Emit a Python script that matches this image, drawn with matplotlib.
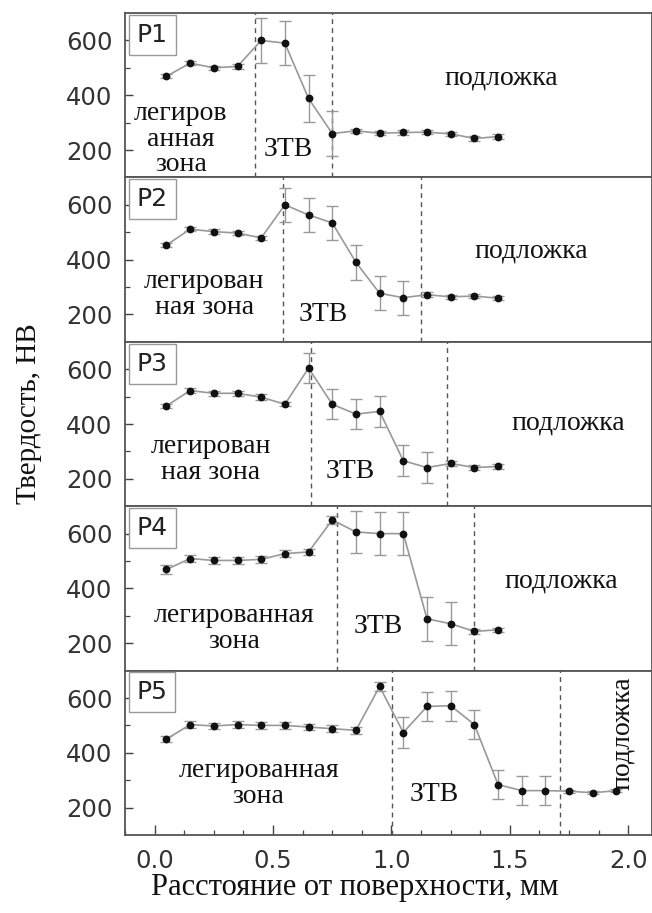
import matplotlib
matplotlib.use("Agg")
import matplotlib.pyplot as plt
import numpy as np

# ---------------- data ----------------
panel_names = ["P1", "P2", "P3", "P4", "P5"]

x_p1 = [0.05, 0.15, 0.25, 0.35, 0.45, 0.55, 0.65, 0.75, 0.85, 0.95, 1.05, 1.15, 1.25, 1.35, 1.45]
hb_p1 = [469, 517, 500, 505, 600, 590, 388, 260, 270, 261, 264, 265, 259, 242, 249]
err_p1 = [8, 8, 8, 8, 82, 80, 85, 83, 8, 8, 8, 8, 8, 8, 8]

x_p2 = [0.05, 0.15, 0.25, 0.35, 0.45, 0.55, 0.65, 0.75, 0.85, 0.95, 1.05, 1.15, 1.25, 1.35, 1.45]
hb_p2 = [453, 511, 502, 497, 479, 600, 563, 534, 390, 277, 261, 272, 264, 267, 259]
err_p2 = [8, 8, 8, 8, 8, 61, 62, 61, 63, 62, 62, 8, 8, 8, 8]

x_p3 = [0.05, 0.15, 0.25, 0.35, 0.45, 0.55, 0.65, 0.75, 0.85, 0.95, 1.05, 1.15, 1.25, 1.35, 1.45]
hb_p3 = [466, 522, 512, 512, 498, 472, 604, 472, 436, 446, 266, 241, 256, 241, 245]
err_p3 = [8, 8, 8, 8, 10, 8, 55, 55, 54, 57, 56, 55, 8, 8, 8]

x_p4 = [0.05, 0.15, 0.25, 0.35, 0.45, 0.55, 0.65, 0.75, 0.85, 0.95, 1.05, 1.15, 1.25, 1.35, 1.45]
hb_p4 = [469, 509, 502, 502, 506, 527, 533, 650, 606, 600, 600, 289, 271, 243, 249]
err_p4 = [15, 12, 12, 12, 12, 12, 12, 15, 78, 78, 78, 80, 79, 8, 8]

x_p5 = [0.05, 0.15, 0.25, 0.35, 0.45, 0.55, 0.65, 0.75, 0.85, 0.95,
        1.05, 1.15, 1.25, 1.35, 1.45, 1.55, 1.65, 1.75, 1.85, 1.95]
hb_p5 = [450, 503, 498, 503, 500, 500, 494, 488, 482, 642,
         474, 569, 572, 503, 284, 262, 262, 260, 254, 262]
err_p5 = [12, 12, 12, 12, 12, 12, 12, 12, 12, 15,
          55, 54, 55, 54, 54, 54, 54, 5, 5, 5]

# zone boundaries (dashed lines), mm
bounds = [[0.424, 0.751], [0.540, 1.126], [0.659, 1.234], [0.769, 1.349], [1.004, 1.710]]

# zone labels
alloy_lbl = ["легиров\nанная\nзона", "легирован\nная зона", "легирован\nная зона",
             "легированная\nзона", "легированная\nзона"]
alloy_pos = [(0.11, 240), (0.21, 274), (0.238, 270), (0.336, 253), (0.439, 288)]
haz_lbl = "ЗТВ"
haz_pos = [(0.565, 200), (0.714, 198), (0.828, 227), (0.944, 262), (1.179, 246)]
sub_lbl = "подложка"
sub_pos = [(1.465, 462), (1.591, 432), (1.747, 403), (1.717, 426), (1.975, 470)]
sub_rot = [0, 0, 0, 0, 90]

xs = [x_p1, x_p2, x_p3, x_p4, x_p5]
ys = [hb_p1, hb_p2, hb_p3, hb_p4, hb_p5]
es = [err_p1, err_p2, err_p3, err_p4, err_p5]

y_ticks = [200, 400, 600]
x_ticks = [0.0, 0.5, 1.0, 1.5, 2.0]
x_tick_labels = ["0.0", "0.5", "1.0", "1.5", "2.0"]

# ---------------- figure ----------------
W, H = 652, 913
fig = plt.figure(figsize=(W / 100, H / 100), dpi=100)

serif = ["Liberation Serif", "DejaVu Serif"]
sans = ["DejaVu Sans"]

left_px, right_px = 125, 652
top_px, bot_px = 13, 835
ph = (bot_px - top_px) / 5.0

for i in range(5):
    top = top_px + ph * i
    ax = fig.add_axes([left_px / W, (H - (top + ph)) / H, (right_px - left_px) / W, ph / H])
    ax.set_xlim(-0.125, 2.1)
    ax.set_ylim(100, 700)

    ax.errorbar(xs[i], ys[i], yerr=es[i], fmt='-', color='#999999', lw=1.2,
                ecolor='#999999', elinewidth=1.0, capsize=4.5, capthick=1.0, zorder=2)
    ax.plot(xs[i], ys[i], 'o', color='#111111', ms=4.6, zorder=3, ls='none')

    for b in bounds[i]:
        ax.axvline(b, color='#555555', lw=1.0, ls=(0, (3.5, 3)), zorder=1)

    ax.text(0.022, 0.94, panel_names[i], transform=ax.transAxes, ha='left', va='top',
            fontsize=18, family=sans, color='#222222',
            bbox=dict(boxstyle='square,pad=0.32', fc='white', ec='#999999', lw=1.0))

    ax.text(alloy_pos[i][0], alloy_pos[i][1], alloy_lbl[i], ha='center', va='center',
            fontsize=20, family=serif, color='#111111', linespacing=1.05)
    ax.text(haz_pos[i][0], haz_pos[i][1], haz_lbl, ha='center', va='center',
            fontsize=20, family=serif, color='#111111')
    ax.text(sub_pos[i][0], sub_pos[i][1], sub_lbl, ha='center', va='center',
            fontsize=20, family=serif, color='#111111', rotation=sub_rot[i])

    ax.set_yticks(y_ticks)
    ax.set_yticks([300, 500], minor=True)
    ax.set_yticklabels([str(t) for t in y_ticks], fontsize=17.5, family=sans, color='#333333')
    ax.tick_params(axis='y', which='major', direction='in', length=6, width=1.0,
                   color='#444444', pad=9)
    ax.tick_params(axis='y', which='minor', direction='in', length=3.5, width=0.9,
                   color='#444444')

    for sp in ax.spines.values():
        sp.set_color('#555555')
        sp.set_linewidth(1.3)

    if i < 4:
        ax.set_xticks([])
        ax.tick_params(axis='x', which='both', length=0)
    else:
        ax.set_xticks(x_ticks)
        ax.set_xticklabels(x_tick_labels, fontsize=17.5, family=sans, color='#333333')
        ax.set_xticks(np.arange(-0.125, 2.1, 0.125), minor=True)
        ax.tick_params(axis='x', which='major', direction='in', length=7, width=1.0,
                       color='#444444', pad=10)
        ax.tick_params(axis='x', which='minor', direction='in', length=3.5, width=0.9,
                       color='#444444')

fig.text(29 / W, 1 - 414 / H, "Твердость, НВ", rotation=90, ha='center', va='center',
         fontsize=21, family=serif, color='#111111')
fig.text(355 / W, 1 - 887 / H, "Расстояние от поверхности, мм", ha='center', va='center',
         fontsize=22, family=serif, color='#111111')

fig.savefig("out.png", dpi=100)
